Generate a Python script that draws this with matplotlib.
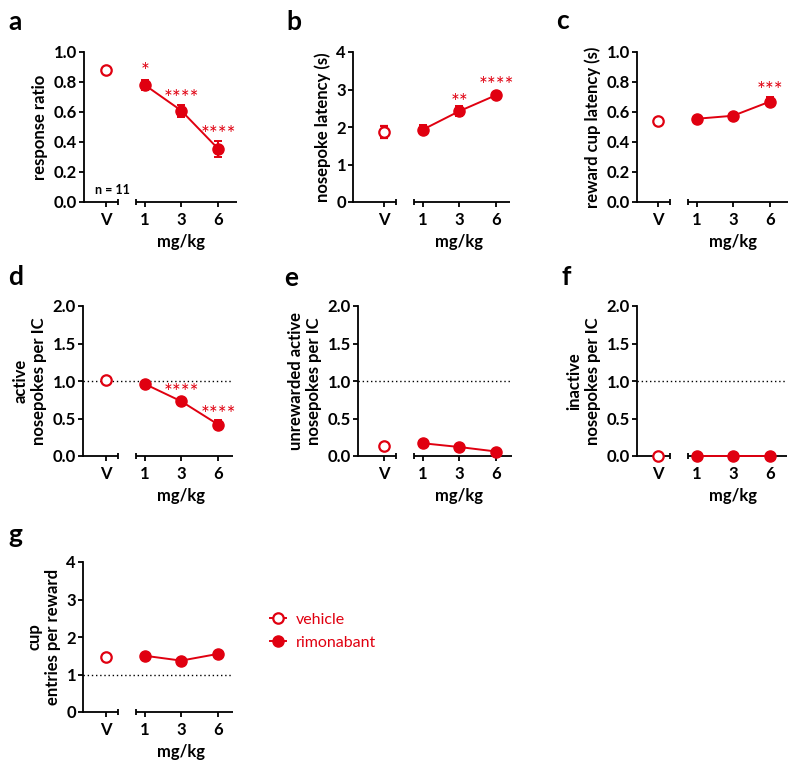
# rimonabant dose-response panels (Prism-like style)

import matplotlib.pyplot as plt
import matplotlib.transforms as mtransforms
from matplotlib.lines import Line2D

plt.rcParams['font.family'] = ['Lato', 'DejaVu Sans']
plt.rcParams['font.weight'] = 'bold'

red = '#e00010'

doses = ['V', '1', '3', '6']
xpos = [0, 1.05, 2.03, 3.03]

# a - response ratio
a_veh, a_veh_err = 0.88, 0.01
a_rim = [0.78, 0.61, 0.355]
a_rim_err = [0.03, 0.04, 0.055]
a_stars = [(1, '*', 0.90), (2, '****', 0.72), (3, '****', 0.48)]

# b - nosepoke latency
b_veh, b_veh_err = 1.87, 0.15
b_rim = [1.93, 2.42, 2.85]
b_rim_err = [0.12, 0.13, 0.05]
b_stars = [(2, '**', 2.78), (3, '****', 3.22)]

# c - reward cup latency
c_veh, c_veh_err = 0.54, 0.01
c_rim = [0.555, 0.575, 0.67]
c_rim_err = [0.01, 0.01, 0.03]
c_stars = [(3, '***', 0.77)]

# d - active nosepokes per IC
d_veh, d_veh_err = 1.01, 0.02
d_rim = [0.96, 0.73, 0.42]
d_rim_err = [0.02, 0.03, 0.06]
d_stars = [(2, '****', 0.90), (3, '****', 0.62)]

# e - unrewarded active nosepokes per IC
e_veh, e_veh_err = 0.13, 0.01
e_rim = [0.17, 0.12, 0.06]
e_rim_err = [0.01, 0.01, 0.01]

# f - inactive nosepokes per IC
f_veh, f_veh_err = 0.0, 0.0
f_rim = [0.0, 0.0, 0.0]
f_rim_err = [0.0, 0.0, 0.0]

# g - cup entries per reward
g_veh, g_veh_err = 1.48, 0.03
g_rim = [1.50, 1.37, 1.55]
g_rim_err = [0.03, 0.03, 0.03]

W, H = 800, 772
fig = plt.figure(figsize=(8, 7.72), dpi=100)

u = 37.0  # pixels per x unit


def panel(box, letter, veh, veh_err, rim, rim_err, ylim, yticks, fmt,
          ylabel, stars=(), ref=None, note=None):
    axis_px, v_px, right_px, bottom_px = box
    ax = fig.add_axes([axis_px / W, 1 - bottom_px / H,
                       (right_px - axis_px) / W, 150 / H])
    x0 = (axis_px - v_px) / u
    x1 = (right_px - v_px) / u
    ax.set_xlim(x0, x1)
    ax.set_ylim(*ylim)

    for s in ['top', 'right', 'bottom']:
        ax.spines[s].set_visible(False)
    ax.spines['left'].set_linewidth(1.3)

    # broken x axis
    seg1 = xpos[0] + 0.32
    seg2 = xpos[1] - 0.24
    kw = dict(color='k', lw=1.3, clip_on=False, solid_capstyle='butt')
    ax.plot([x0, seg1], [ylim[0], ylim[0]], **kw)
    ax.plot([seg2, x1], [ylim[0], ylim[0]], **kw)
    hh = 0.022 * (ylim[1] - ylim[0])
    ax.plot([seg1, seg1], [ylim[0] - hh, ylim[0] + hh], **kw)
    ax.plot([seg2, seg2], [ylim[0] - hh, ylim[0] + hh], **kw)

    if ref is not None:
        ax.plot([x0, x1], [ref, ref], color='k', lw=1.0, ls=(0, (1, 2)))

    c1 = ax.errorbar(xpos[0], veh, yerr=veh_err, fmt='o', color=red,
                     mfc='white', mec=red, mew=1.6, ms=7.5, capsize=3,
                     elinewidth=1.4, capthick=1.4, zorder=4)
    c2 = ax.errorbar(xpos[1:], rim, yerr=rim_err, fmt='-o', color=red,
                     ms=8, lw=1.4, capsize=3, elinewidth=1.4, capthick=1.4,
                     zorder=4)
    for c in (c1, c2):
        for art in c.get_children():
            art.set_clip_on(False)

    star_tr = mtransforms.offset_copy(ax.transData, fig=fig, y=-5,
                                      units='dots')
    for i, txt, y in stars:
        ax.text(xpos[i], y, txt, color=red, fontsize=15, fontweight='normal',
                ha='center', va='center', transform=star_tr)

    ax.set_xticks(xpos)
    ax.set_xticklabels(doses)
    ax.set_yticks(yticks)
    ax.set_yticklabels([fmt % t for t in yticks])
    ax.tick_params(axis='both', direction='out', length=3.5, width=1.3,
                   labelsize=12)
    ax.tick_params(axis='x', pad=3.5)
    ax.tick_params(axis='y', pad=1.5)

    ax.set_ylabel(ylabel, fontsize=12, fontweight='bold', labelpad=4)
    ax.set_xlabel('mg/kg', fontsize=12, fontweight='bold')
    ax.xaxis.set_label_coords((xpos[2] - x0) / (x1 - x0), -0.21)

    if note:
        ax.text(0.07, 0.04, note, transform=ax.transAxes, fontsize=9,
                fontweight='bold', va='bottom')

    fig.text(panel_letter_x[letter] / W, 1 - panel_letter_y[letter] / H,
             letter, fontsize=19, fontweight='bold', va='baseline')
    return ax


panel_letter_x = {'a': 8, 'b': 286, 'c': 556, 'd': 8, 'e': 284,
                  'f': 561, 'g': 8}
panel_letter_y = {'a': 30, 'b': 30, 'c': 29, 'd': 285, 'e': 286,
                  'f': 285, 'g': 543}

t02 = [0.0, 0.2, 0.4, 0.6, 0.8, 1.0]
t05 = [0.0, 0.5, 1.0, 1.5, 2.0]
t1 = [0, 1, 2, 3, 4]

panel((84, 106, 237, 202), 'a', a_veh, a_veh_err, a_rim, a_rim_err,
      (0, 1), t02, '%.1f', 'response ratio', a_stars, note='n = 11')
panel((353, 384, 510, 202), 'b', b_veh, b_veh_err, b_rim, b_rim_err,
      (0, 4), t1, '%d', 'nosepoke latency (s)', b_stars)
panel((637, 658, 788, 202), 'c', c_veh, c_veh_err, c_rim, c_rim_err,
      (0, 1), t02, '%.1f', 'reward cup latency (s)', c_stars)
panel((83, 106, 233, 456), 'd', d_veh, d_veh_err, d_rim, d_rim_err,
      (0, 2), t05, '%.1f', 'active\nnosepokes per IC', d_stars, ref=1.0)
panel((358, 384, 512, 456), 'e', e_veh, e_veh_err, e_rim, e_rim_err,
      (0, 2), t05, '%.1f', 'unrewarded active\nnosepokes per IC', ref=1.0)
panel((637, 658, 787, 456), 'f', f_veh, f_veh_err, f_rim, f_rim_err,
      (0, 2), t05, '%.1f', 'inactive\nnosepokes per IC', ref=1.0)
panel((83, 106, 233, 712), 'g', g_veh, g_veh_err, g_rim, g_rim_err,
      (0, 4), t1, '%d', 'cup\nentries per reward', ref=1.0)

handles = [
    Line2D([], [], color=red, marker='o', mfc='white', mec=red, mew=1.6,
           ms=7.5, lw=1.4),
    Line2D([], [], color=red, marker='o', ms=8, lw=1.4),
]
fig.legend(handles, ['vehicle', 'rimonabant'], loc='center left',
           bbox_to_anchor=(256 / W, 1 - 631 / H), frameon=False,
           labelcolor=red, prop={'size': 11.5, 'weight': 'normal'},
           handlelength=1.0, handletextpad=0.6, labelspacing=0.55)

plt.savefig('out.png', dpi=100)
